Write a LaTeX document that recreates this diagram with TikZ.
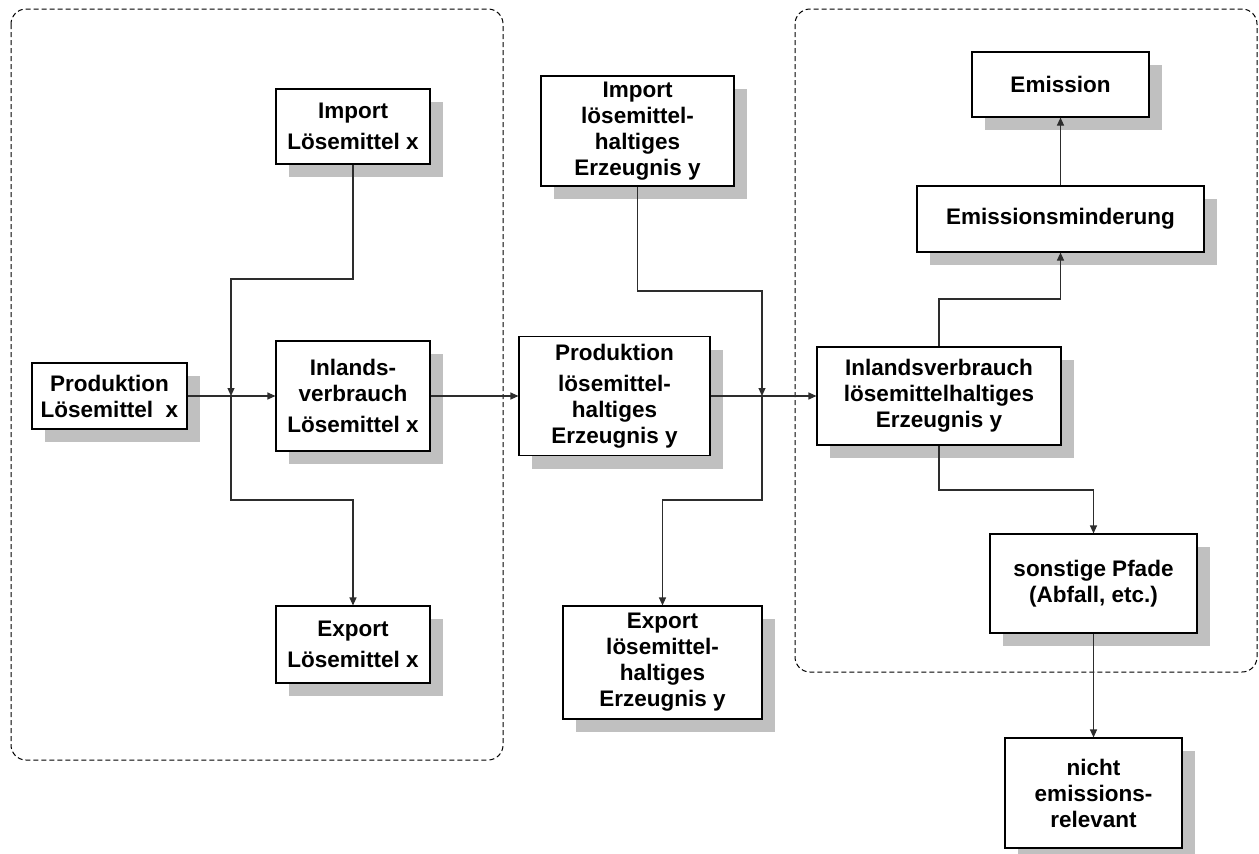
\documentclass[tikz,border=0pt]{standalone}
\usepackage{fontspec}
\setmainfont{Liberation Sans}
\usepackage{tikz}
\usetikzlibrary{arrows.meta, positioning, shadows}
\definecolor{shadowgray}{RGB}{192,192,192}
\definecolor{linegray}{RGB}{45,45,45}

\tikzset{
  flowbox/.style={draw=black, line width=1.1pt, fill=white, align=center, inner sep=0pt,
    font=\fontsize{22.5}{26}\selectfont\bfseries,
    drop shadow={shadow xshift=13pt, shadow yshift=-13pt, fill=shadowgray, opacity=1}},
  flow/.style={draw=linegray, line width=1.1pt, -{Triangle[length=8pt, width=7pt]}},
  region/.style={draw=black, line width=1pt, dash pattern=on 5pt off 3pt, rounded corners=15pt}
}

\begin{document}
\begin{tikzpicture}[x=1pt, y=-1pt]
    \useasboundingbox (0,0) rectangle (1259,854);

    % Bilanzraeume
    \draw[region] (11,9) rectangle (503,760);
    \draw[region] (795,9) rectangle (1257,672);

    % Loesemittel x
    \node[flowbox, minimum width=155pt, minimum height=66pt] (prodx) at (109.5,396) {Produktion\\Lösemittel\ \ x};
    \node[flowbox, minimum width=154pt, minimum height=75pt] (impx) at (353,126.5) {Import\\[5pt]Lösemittel x};
    \node[flowbox, minimum width=154pt, minimum height=110pt] (inlx) at (353,396) {Inlands-\\verbrauch\\[5pt]Lösemittel x};
    \node[flowbox, minimum width=154pt, minimum height=77pt] (expx) at (353,644.5) {Export\\[5pt]Lösemittel x};

    % Erzeugnis y
    \node[flowbox, minimum width=193pt, minimum height=110pt] (impy) at (637.5,131) {Import\\lösemittel-\\haltiges\\Erzeugnis y};
    \node[flowbox, minimum width=191pt, minimum height=119pt] (prody) at (614.5,396) {Produktion\\[5pt]lösemittel-\\haltiges\\Erzeugnis y};
    \node[flowbox, minimum width=199pt, minimum height=113pt] (expy) at (662.5,662.5) {Export\\lösemittel-\\haltiges\\Erzeugnis y};

    % Verbleib
    \node[flowbox, minimum width=244pt, minimum height=98pt] (inly) at (939,396) {Inlandsverbrauch\\lösemittelhaltiges\\Erzeugnis y};
    \node[flowbox, minimum width=287pt, minimum height=66pt] (emin) at (1060.5,219) {Emissionsminderung};
    \node[flowbox, minimum width=177pt, minimum height=65pt] (emis) at (1060.5,84.5) {Emission};
    \node[flowbox, minimum width=207pt, minimum height=99pt] (sonst) at (1093.5,583.5) {sonstige Pfade\\(Abfall, etc.)};
    \node[flowbox, minimum width=177pt, minimum height=110pt] (nicht) at (1093.5,793) {nicht\\emissions-\\relevant};

    % Knickpunkte
    \coordinate (jx) at (231,396);
    \coordinate (jxtop) at (231,279);
    \coordinate (jxbot) at (231,500);
    \coordinate (jy) at (762,396);
    \coordinate (jytop) at (762,291);
    \coordinate (jybot) at (762,500);
    \coordinate (minup) at (1060.5,299);
    \coordinate (sondown) at (1093.5,490);

    % Stroeme
    \draw[flow] (prodx.east) -- (inlx.west);
    \draw[flow] (impx.south) |- (jxtop) -- (jx);
    \draw[flow] (jx) -- (jxbot) -| (expx.north);
    \draw[flow] (inlx.east) -- (prody.west);
    \draw[flow] (prody.east) -- (inly.west);
    \draw[flow] (impy.south) |- (jytop) -- (jy);
    \draw[flow] (jy) -- (jybot) -| (expy.north);
    \draw[flow] (inly.north) |- (minup) -- (emin.south);
    \draw[flow] (emin.north) -- (emis.south);
    \draw[flow] (inly.south) |- (sondown) -- (sonst.north);
    \draw[flow] (sonst.south) -- (nicht.north);
\end{tikzpicture}
\end{document}
